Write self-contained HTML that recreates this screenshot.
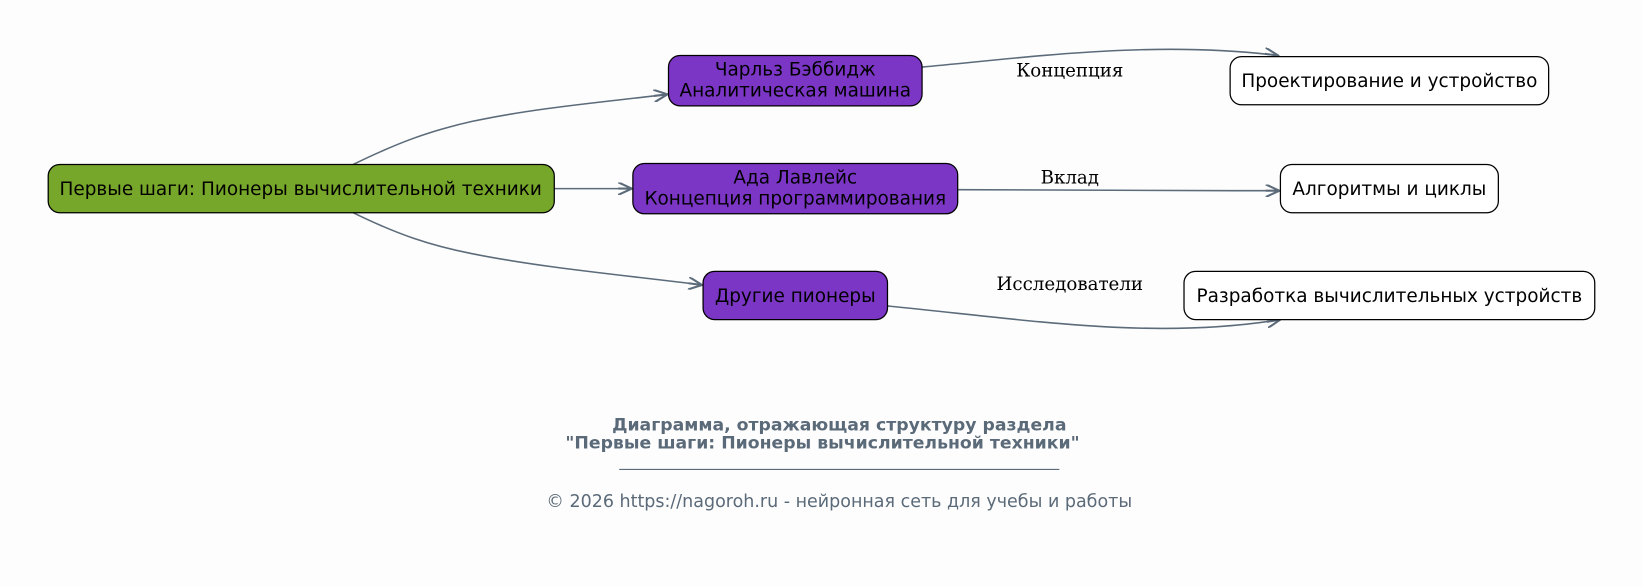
<!DOCTYPE html>
<html><head><meta charset="utf-8"><style>
html,body{margin:0;padding:0;background:#fdfdfd;}
svg{display:block;}
.n{font-family:"DejaVu Sans","Liberation Sans",sans-serif;font-size:17.6px;fill:#000;}
.e{font-family:"DejaVu Serif","Liberation Serif",serif;font-size:17.4px;fill:#000;}
.t{font-family:"DejaVu Sans","Liberation Sans",sans-serif;font-size:16.5px;font-weight:bold;fill:#5b6a79;}
.f{font-family:"DejaVu Sans","Liberation Sans",sans-serif;font-size:16.7px;fill:#5b6a79;}
</style></head><body>
<svg width="1643" height="586" viewBox="0 0 1643 586" xmlns="http://www.w3.org/2000/svg">
<defs><marker id="a" markerWidth="14" markerHeight="12" refX="13" refY="6" orient="auto" markerUnits="userSpaceOnUse"><path d="M0,0 L13,6 L0,12 M0,6 L13,6" fill="none" stroke="#5c6b7a" stroke-width="2"/></marker></defs>
<g transform="scale(1.0478)">
<g fill="none" stroke="#5c6b7a" stroke-width="1.5">
<path d="M337,157 C380,136 410,125 450,116 C510,103 580,97 637,90" marker-end="url(#a)"/>
<path d="M529,180 L603,180" marker-end="url(#a)"/>
<path d="M337,203 C380,224 410,234 450,242 C520,256 600,263 670,272" marker-end="url(#a)"/>
<path d="M880,64 C980,55 1100,38 1220,53" marker-end="url(#a)"/>
<path d="M914,181 C1020,182 1120,182 1221,182" marker-end="url(#a)"/>
<path d="M847,292 C980,305 1100,325 1222,305" marker-end="url(#a)"/>
</g>
<g stroke="#000" stroke-width="1.2">
<rect x="46" y="157" width="483" height="46" rx="11" fill="#77a72a"/>
<rect x="638" y="53" width="242" height="48" rx="11" fill="#7b36c6"/>
<rect x="604" y="156" width="310" height="48" rx="11" fill="#7b36c6"/>
<rect x="671" y="259" width="176" height="46" rx="11" fill="#7b36c6"/>
<rect x="1174" y="54" width="304" height="46" rx="11" fill="#fff"/>
<rect x="1222" y="157" width="208" height="46" rx="11" fill="#fff"/>
<rect x="1130" y="259" width="392" height="46" rx="11" fill="#fff"/>
</g>
<g class="n" text-anchor="middle">
<text x="287" y="186">Первые шаги: Пионеры вычислительной техники</text>
<text x="759" y="72">Чарльз Бэббидж</text>
<text x="759" y="92">Аналитическая машина</text>
<text x="759" y="175">Ада Лавлейс</text>
<text x="759" y="195">Концепция программирования</text>
<text x="759" y="288">Другие пионеры</text>
<text x="1326" y="83">Проектирование и устройство</text>
<text x="1326" y="186">Алгоритмы и циклы</text>
<text x="1326" y="288">Разработка вычислительных устройств</text>
</g>
<g class="e" text-anchor="middle">
<text x="1021" y="73">Концепция</text>
<text x="1021" y="175">Вклад</text>
<text x="1021" y="277">Исследователи</text>
</g>
<g text-anchor="middle">
<text class="t" x="801" y="411">Диаграмма, отражающая структуру раздела</text>
<text class="t" x="785" y="428">"Первые шаги: Пионеры вычислительной техники"</text>
<line x1="591" y1="448" x2="1011" y2="448" stroke="#5b6a79" stroke-width="1"/>
<text class="f" x="801" y="484">© 2026 https://nagoroh.ru - нейронная сеть для учебы и работы</text>
</g>
</g>
</svg>
</body></html>
